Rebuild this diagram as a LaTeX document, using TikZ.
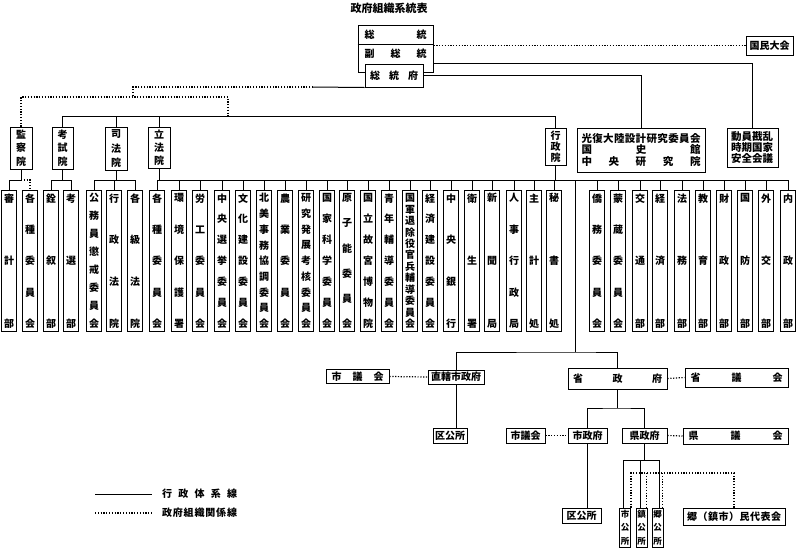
\documentclass[tikz,border=0pt]{standalone}
\usepackage{fontspec}
\setmainfont{Noto Sans CJK JP}
\usetikzlibrary{positioning}

% vertical text: characters spread from top to bottom
\newcommand{\vs}{\par\vfill}
\newcommand{\vtext}[3]{\parbox[c][#1][s]{#2}{\centering #3}}

\tikzset{
  orgbox/.style={draw, line width=1pt, inner sep=0pt, fill=white,
    font=\fontsize{10}{11}\selectfont\bfseries},
  subbox/.style={orgbox, minimum width=15, minimum height=141, anchor=north},
  gsbox/.style={orgbox, minimum width=11, minimum height=39,
    font=\fontsize{8.5}{9}\selectfont\bfseries},
  link/.style={line width=1pt},
  rel/.style={line width=1.2pt, dash pattern=on 1.2pt off 1.6pt},
}

\begin{document}
\begin{tikzpicture}[x=1pt,y=-1pt]
\useasboundingbox (0,0) rectangle (798,550);

\node[font=\fontsize{11}{11}\selectfont\bfseries] (title) at (389,8) {政府組織系統表};

% president
\node[orgbox, minimum width=75, minimum height=47] (pres) at (395.5,48.5) {};
\draw[link] (pres.west |- 0,44) -- (pres.east |- 0,44);
\node[font=\fontsize{10}{10}\selectfont\bfseries] (zongtong) at (395.5,34.5) {\parbox{62pt}{総\hfill 統}};
\node[font=\fontsize{10}{10}\selectfont\bfseries] (fuzt) at (395.5,54) {\parbox{62pt}{副\hfill 総\hfill 統}};
\node[orgbox, minimum width=58, minimum height=23] (fu) at (394,75.5) {\parbox{48pt}{総\hfill 統\hfill 府}};
\node[orgbox, minimum width=47, minimum height=19] (guomin) at (769.5,45.5) {国民大会};

% yuan level
\node[orgbox, minimum width=22, minimum height=42] (jiancha) at (21,148) {\vtext{36pt}{14pt}{監\vs 察\vs 院}};
\node[orgbox, minimum width=21, minimum height=42] (kaoshi) at (62.5,148) {\vtext{36pt}{14pt}{考\vs 試\vs 院}};
\node[orgbox, minimum width=22, minimum height=43] (sifa) at (116,148.5) {\vtext{36pt}{14pt}{司\vs 法\vs 院}};
\node[orgbox, minimum width=22, minimum height=41] (lifa) at (159,147.5) {\vtext{34pt}{14pt}{立\vs 法\vs 院}};
\node[orgbox, minimum width=21, minimum height=37] (xingzheng) at (555.5,146.5) {\vtext{31pt}{14pt}{行\vs 政\vs 院}};
\node[orgbox, minimum width=128, minimum height=44] (guangfu) at (641,150)
  {\parbox{119pt}{\fontsize{10.5}{11.5}\selectfont 光\hfill 復\hfill 大\hfill 陸\hfill 設\hfill 計\hfill 研\hfill 究\hfill 委\hfill 員\hfill 会\\
   国\hfill 史\hfill 館\\ 中\hfill 央\hfill 研\hfill 究\hfill 院}};
\node[orgbox, minimum width=51, minimum height=39] (dongyuan) at (752.5,147.5)
  {\parbox{43pt}{\fontsize{10.5}{10.8}\selectfont 動員戡乱\\時期国家\\安全会議}};

\draw[rel] (guomin.west -| pres.east) -- (guomin.west);
\draw[link] ([yshift=-14.5pt]pres.east) -| (dongyuan.north);
\draw[link] (fu.east) -| (guangfu.north);
\coordinate (s1) at (313,87);
\coordinate (d2) at (133,97);
\coordinate (d3) at (228,97);
\coordinate (d4) at (228,116);
\draw[link] (fu.south west) -- (s1);
\draw[rel] (s1) -| (d2);
\draw[rel] (jiancha.north) |- (d3) -- (d4);
\draw[link] (kaoshi.north) |- (xingzheng.north |- d4) -- (xingzheng.north);
\draw[link] (sifa.north) -- (sifa.north |- d4);
\draw[link] (lifa.north) -- (lifa.north |- d4);

% ministries, commissions, courts
\foreach \x/\nm/\t in {
  9/shenji/{審\vs 計\vs 部},
  30/gezhongA/{各\vs 種\vs 委\vs 員\vs 会},
  51/quanxu/{銓\vs 叙\vs 部},
  71/kaoxuan/{考\vs 選\vs 部},
  94/gongwu/{公\vs 務\vs 員\vs 懲\vs 戒\vs 委\vs 員\vs 会},
  114/xingfa/{行\vs 政\vs 法\vs 院},
  135/geji/{各\vs 級\vs 法\vs 院},
  157/gezhongB/{各\vs 種\vs 委\vs 員\vs 会},
  179/huanjing/{環\vs 境\vs 保\vs 護\vs 署},
  200/laogong/{労\vs 工\vs 委\vs 員\vs 会},
  222/xuanju/{中\vs 央\vs 選\vs 挙\vs 委\vs 員\vs 会},
  243/wenhua/{文\vs 化\vs 建\vs 設\vs 委\vs 員\vs 会},
  264/beimei/{北\vs 美\vs 事\vs 務\vs 協\vs 調\vs 委\vs 員\vs 会},
  285/nongye/{農\vs 業\vs 委\vs 員\vs 会},
  306/yankao/{研\vs 究\vs 発\vs 展\vs 考\vs 核\vs 委\vs 員\vs 会},
  327/kexue/{国\vs 家\vs 科\vs 学\vs 委\vs 員\vs 会},
  347/yuanzi/{原\vs 子\vs 能\vs 委\vs 員\vs 会},
  368/gugong/{国\vs 立\vs 故\vs 宮\vs 博\vs 物\vs 院},
  389/qingnian/{青\vs 年\vs 輔\vs 導\vs 委\vs 員\vs 会},
  410/tuifu/{国\vs 軍\vs 退\vs 除\vs 役\vs 官\vs 兵\vs 輔\vs 導\vs 委\vs 員\vs 会},
  430/jingjian/{経\vs 済\vs 建\vs 設\vs 委\vs 員\vs 会},
  451/yanghang/{中\vs 央\vs 銀\vs 行},
  472/weisheng/{衛\vs 生\vs 署},
  492/xinwen/{新\vs 聞\vs 局},
  514/renshi/{人\vs 事\vs 行\vs 政\vs 局},
  534/zhuji/{主\vs 計\vs 処},
  554/mishu/{秘\vs 書\vs 処},
  597/qiaowu/{僑\vs 務\vs 委\vs 員\vs 会},
  618/mengzang/{蒙\vs 蔵\vs 委\vs 員\vs 会},
  640/jiaotong/{交\vs 通\vs 部},
  660/jingji/{経\vs 済\vs 部},
  682/fawu/{法\vs 務\vs 部},
  703/jiaoyu/{教\vs 育\vs 部},
  724/caizheng/{財\vs 政\vs 部},
  745/guofang/{国\vs 防\vs 部},
  766/waijiao/{外\vs 交\vs 部},
  788/neizheng/{内\vs 政\vs 部}}
  \node[subbox] (\nm) at (\x,190) {\vtext{134pt}{14pt}{\t}};

\foreach \nm in {shenji,quanxu,kaoxuan,gongwu,xingfa,geji,gezhongB,huanjing,
  laogong,xuanju,wenhua,beimei,nongye,yankao,kexue,yuanzi,gugong,qingnian,
  tuifu,jingjian,yanghang,weisheng,xinwen,renshi,zhuji,mishu,qiaowu,mengzang,
  jiaotong,jingji,fawu,jiaoyu,caizheng,guofang,waijiao,neizheng}
  \draw[link] (\nm.north) -- ++(0,-10);

\coordinate (bar) at (0,180);
\draw[link] (jiancha.south) -- (jiancha.south |- bar) -- (shenji.north |- bar);
\draw[rel] (jiancha.south |- bar) -- (gezhongA.north |- bar) -- (gezhongA.north);
\draw[link] (kaoshi.south) -- (kaoshi.south |- bar);
\draw[link] (quanxu.north |- bar) -- (kaoxuan.north |- bar);
\draw[link] (sifa.south) -- (sifa.south |- bar);
\draw[link] (gongwu.north |- bar) -- (geji.north |- bar);
\draw[link] (lifa.south) -- (lifa.south |- bar);
\draw[link] (xingzheng.south) -- (xingzheng.south |- bar);
\draw[link] (gezhongB.north |- bar) -- (neizheng.north |- bar);

% local government
\node[orgbox, minimum width=63, minimum height=14] (shiyiA) at (357.5,376.5) {\parbox{52pt}{市\hfill 議\hfill 会}};
\node[orgbox, minimum width=56, minimum height=14] (zhixia) at (456,377) {直轄市政府};
\node[orgbox, minimum width=99, minimum height=21] (sheng) at (617.5,378.5) {\parbox{89pt}{省\hfill 政\hfill 府}};
\node[orgbox, minimum width=103, minimum height=19] (shengyi) at (736.5,377.5) {\parbox{92pt}{省\hfill 議\hfill 会}};
\node[orgbox, minimum width=34, minimum height=15] (qugsA) at (450,435.5) {区公所};
\node[orgbox, minimum width=39, minimum height=15] (shiyiB) at (525.5,435.5) {市議会};
\node[orgbox, minimum width=39, minimum height=15] (shizf) at (587.5,435.5) {市政府};
\node[orgbox, minimum width=45, minimum height=15] (xianzf) at (644.5,435.5) {県政府};
\node[orgbox, minimum width=105, minimum height=16] (xianyi) at (735.5,436) {\parbox{94pt}{県\hfill 議\hfill 会}};
\node[orgbox, minimum width=39, minimum height=15] (qugsB) at (581.5,515.5) {区公所};
\node[gsbox] (shigs) at (625,527.5) {\vtext{34pt}{10pt}{市\vs 公\vs 所}};
\node[gsbox] (zhengs) at (641.5,527.5) {\vtext{34pt}{10pt}{鎮\vs 公\vs 所}};
\node[gsbox] (xianggs) at (657.5,527.5) {\vtext{34pt}{10pt}{郷\vs 公\vs 所}};
\node[orgbox, minimum width=102, minimum height=17] (daibiao) at (734,516.5)
  {\parbox{94pt}{郷\hfill （\hfill 鎮\hfill 市\hfill ）\hfill 民\hfill 代\hfill 表\hfill 会}};

\coordinate (trunk) at (575,180);
\coordinate (loc) at (575,352);
\draw[link] (trunk) -- (loc);
\draw[link] (zhixia.north) |- (loc) -| (sheng.north);
\draw[link] (zhixia.south) -- (zhixia.south |- qugsA.north);
\coordinate (sj) at (sheng.south |- 0,408);
\draw[link] (sheng.south) -- (sj);
\draw[link] (shizf.north) |- (sj) -| (xianzf.north);
\draw[link] (shizf.south) -- (shizf.south |- qugsB.north);
\coordinate (xj) at (xianzf.south |- 0,460);
\coordinate (shigsL) at ([xshift=-2pt]shigs.north);
\coordinate (zhengsL) at ([xshift=-1pt]zhengs.north);
\coordinate (xianggsL) at ([xshift=2pt]xianggs.north);
\draw[link] (xianzf.south) -- (xj);
\draw[link] (shigsL) |- (xj) -| (xianggsL);
\draw[link] (zhengsL) -- (zhengsL |- xj);
\draw[rel] (shiyiA.east) -- (zhixia.west);
\draw[rel] (sheng.east) -- (shengyi.west);
\draw[rel] (shiyiB.east) -- (shizf.west);
\draw[rel] (xianzf.east) -- (xianyi.west);
\coordinate (dj) at (0,473);
\coordinate (shigsR) at ([xshift=6pt]shigs.north);
\coordinate (zhengsR) at ([xshift=5pt]zhengs.north);
\coordinate (xianggsR) at ([xshift=5pt]xianggs.north);
\draw[rel] (daibiao.north) |- (shigsR |- dj) -- (shigsR);
\draw[rel] (zhengsR |- dj) -- (zhengsR);
\draw[rel] (xianggsR |- dj) -- (xianggsR);

% legend
\coordinate (lsA) at (95,494);
\coordinate (lsB) at (152,494);
\coordinate (ldA) at (95,513);
\coordinate (ldB) at (152,513);
\draw[link] (lsA) -- (lsB);
\draw[rel] (ldA) -- (ldB);
\node[font=\fontsize{10}{10}\selectfont\bfseries] (legA) at (199.5,494) {\parbox{75pt}{行\hfill 政\hfill 体\hfill 系\hfill 線}};
\node[font=\fontsize{10}{10}\selectfont\bfseries] (legB) at (199.5,513) {\parbox{75pt}{政\hfill 府\hfill 組\hfill 織\hfill 関\hfill 係\hfill 線}};
\end{tikzpicture}
\end{document}
